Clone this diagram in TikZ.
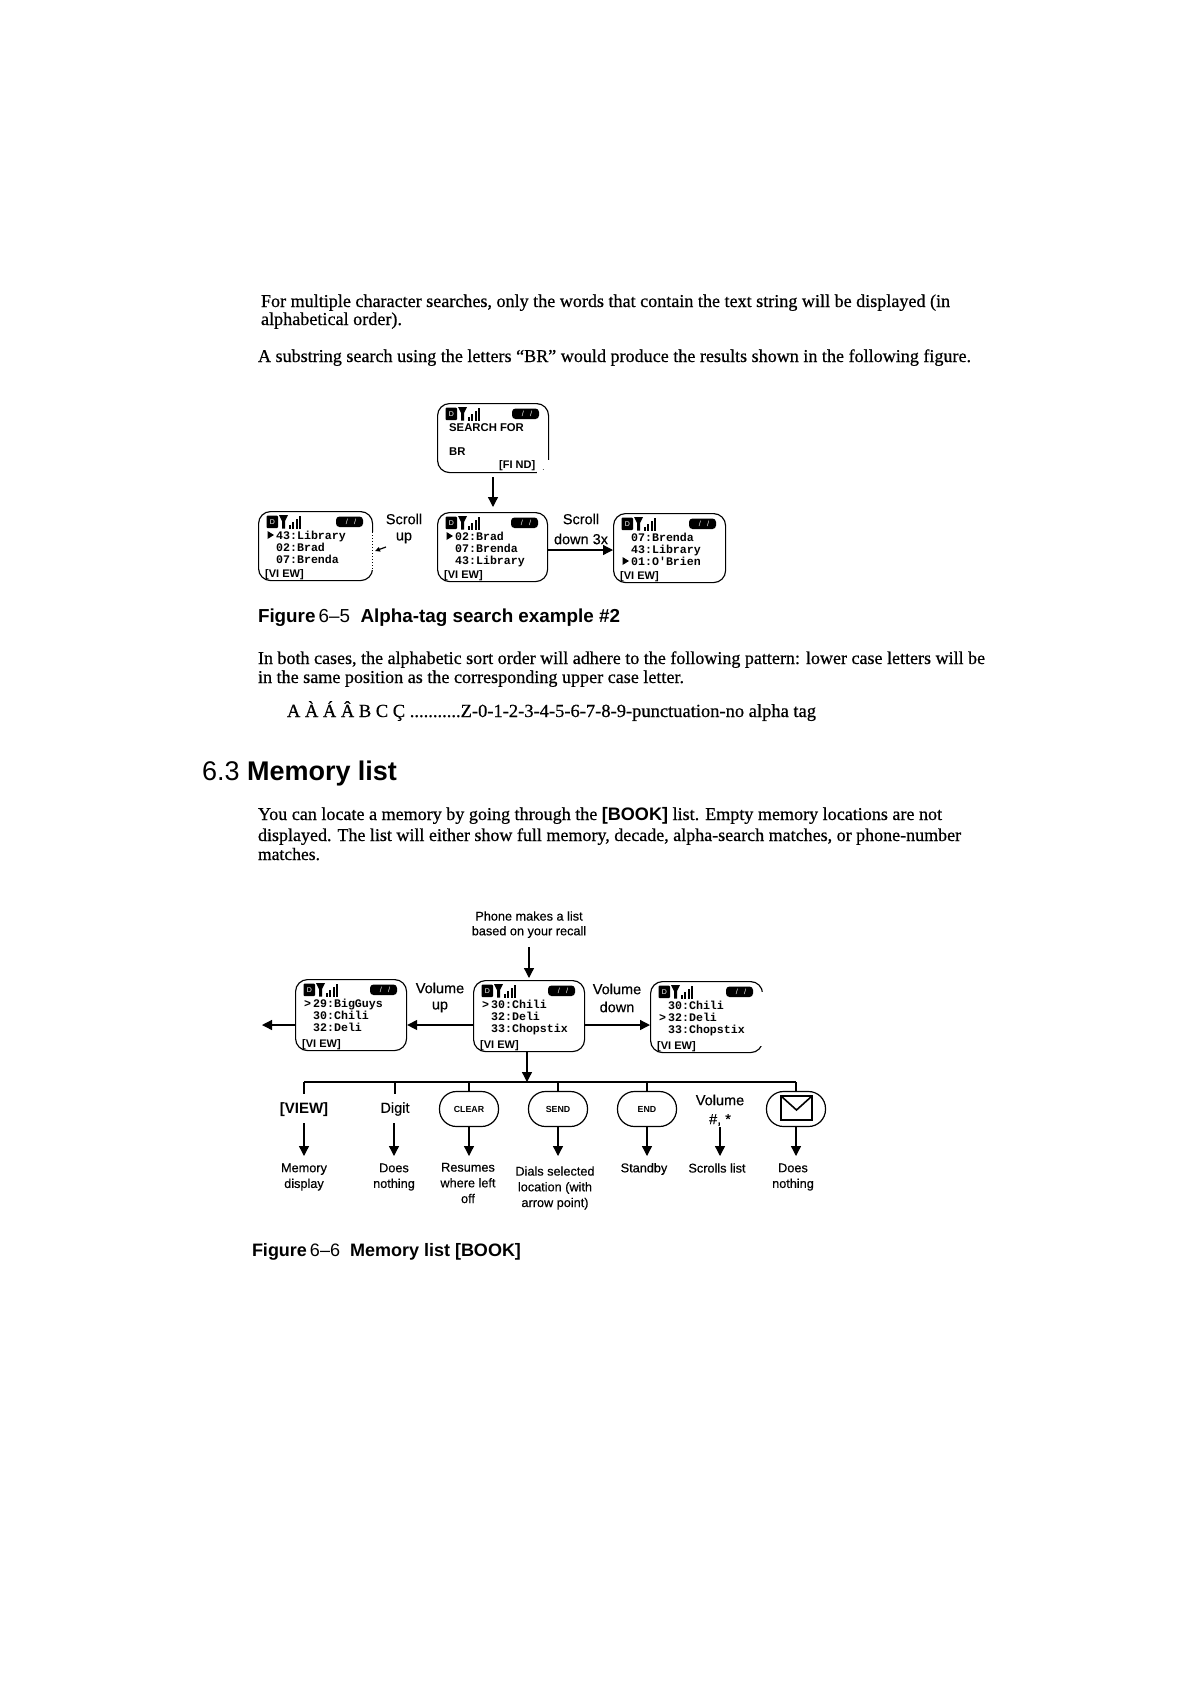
\documentclass[tikz,border=0pt]{standalone}
\usepackage{fontspec}
\usepackage{graphicx}
\usetikzlibrary{arrows.meta}
\setmainfont[FakeBold=0.6]{Liberation Serif}
\setsansfont{Liberation Sans}
\newfontfamily\monob{Liberation Mono}
\newfontfamily\armed[FakeBold=0.35]{Liberation Sans}
\newcommand{\fs}[1]{\fontsize{#1}{#1}\selectfont}
\tikzset{
  x=1pt,y=-1pt,
  bodyline/.style={anchor=base west,inner sep=0pt,outer sep=0pt},
  screenbox/.style={draw,line width=1.15pt,rounded corners=12pt,inner sep=0pt,anchor=north west,fill=white},
  lcd/.style={anchor=base west,inner sep=0pt,font=\monob\bfseries\fs{11.6}},
  lcdp/.style={anchor=base west,inner sep=0pt,font=\sffamily\bfseries\fs{11.3}},
  softk/.style={anchor=base west,inner sep=0pt,font=\sffamily\bfseries\fs{11}},
  lab/.style={anchor=center,inner sep=0pt,align=center,font=\armed\fs{14.5}},
  smalllab/.style={anchor=center,inner sep=0pt,align=center,font=\armed\fs{12.7}},
  conn/.style={line width=1.3pt,-{Triangle[length=10pt,width=10pt]}},
  busline/.style={line width=1.4pt},
  pill/.style={draw,line width=1.2pt,rounded corners=17pt,minimum width=59pt,minimum height=35pt,inner sep=0pt,font=\sffamily\bfseries\fs{8.8}},
}
% name, left, top, width, height
\newcommand{\phonescreen}[5]{%
  \node[screenbox,minimum width=#4pt,minimum height=#5pt] (#1) at (#2,#3) {};
  \fill[rounded corners=1pt] (#2+8.5,#3+4.5) rectangle (#2+20,#3+17);
  \node[inner sep=0pt,text=white,font=\sffamily\fs{7}] (#1-d) at (#2+14.5,#3+11) {D};
  \fill (#2+21,#3+4) -- (#2+30,#3+4) -- (#2+27,#3+10) -- (#2+27,#3+17.5) -- (#2+24,#3+17.5) -- (#2+24,#3+10) -- cycle;
  \fill (#2+31,#3+14) rectangle (#2+33,#3+17.5);
  \fill (#2+34.3,#3+11) rectangle (#2+36.3,#3+17.5);
  \fill (#2+37.6,#3+8) rectangle (#2+39.6,#3+17.5);
  \fill (#2+40.9,#3+4.5) rectangle (#2+42.6,#3+17.5);
  \fill[rounded corners=3.5pt] (#2+#4-36,#3+5.5) rectangle (#2+#4-9,#3+16);
  \node[inner sep=0pt,text=white,font=\sffamily\fs{7.5}] (#1-b) at (#2+#4-21,#3+10.7) {/\ \ \ /};
}
% name, left, top, row, text
\newcommand{\lcdrow}[5]{\node[lcd] (#1-r#4) at (#2+18,#3+#4*12+16) {#5};}
\newcommand{\softkey}[3]{\node[softk] (#1-k) at (#2+7,#3+66) {[VI EW]};}
\newcommand{\trimark}[3]{\fill (#1+9.5,#2+#3*12+8) -- (#1+16,#2+#3*12+12) -- (#1+9.5,#2+#3*12+16) -- cycle;}
\newcommand{\gtmark}[3]{\node[lcd] (mk#1) at (#2+9,#3) {>};}
\begin{document}
\begin{tikzpicture}
\useasboundingbox (0,0) rectangle (1182,1682);
\fill[white] (0,0) rectangle (1182,1682);

% page text
\node[bodyline] (t1) at (261,307) {\resizebox{689pt}{!}{\fs{17}For multiple character searches, only the words that contain the text string will be displayed (in}};
\node[bodyline] (t2) at (261,325) {\resizebox{141pt}{!}{\fs{17}alphabetical order).}};
\node[bodyline] (t3) at (258,362) {\resizebox{713pt}{!}{\fs{17}A substring search using the letters “BR” would produce the results shown in the following figure.}};
\node[bodyline] (cap5) at (258,622) {\resizebox{362pt}{!}{\fs{16}\sffamily\bfseries Figure\,{\mdseries 6–5}\ \ Alpha-tag search example \#2}};
\node[bodyline] (t4) at (258,664) {\resizebox{727pt}{!}{\fs{17}In both cases, the alphabetic sort order will adhere to the following pattern: lower case letters will be}};
\node[bodyline] (t5) at (258,683) {\resizebox{426pt}{!}{\fs{17}in the same position as the corresponding upper case letter.}};
\node[bodyline] (t6) at (287,717) {\resizebox{529pt}{!}{\fs{17}A À Á Â B C Ç ...........Z-0-1-2-3-4-5-6-7-8-9-punctuation-no alpha tag}};
\node[bodyline] (head) at (202,780) {\resizebox{195pt}{!}{\fs{27}\sffamily 6.3 \bfseries Memory list}};
\node[bodyline] (t7) at (258,820) {\resizebox{684pt}{!}{\fs{17}You can locate a memory by going through the {\sffamily\bfseries [BOOK]} list. Empty memory locations are not}};
\node[bodyline] (t8) at (258,841) {\resizebox{703pt}{!}{\fs{17}displayed. The list will either show full memory, decade, alpha-search matches, or phone-number}};
\node[bodyline] (t9) at (258,860) {\resizebox{62pt}{!}{\fs{17}matches.}};
\node[bodyline] (cap6) at (252,1256) {\resizebox{269pt}{!}{\fs{16}\sffamily\bfseries Figure\,{\mdseries 6–6}\ \ Memory list [BOOK]}};

% Figure 6-5
\phonescreen{s0}{437}{403}{111}{69}
\node[lcdp] (s0-a) at (449,431) {SEARCH FOR};
\node[lcdp] (s0-c) at (449,455) {BR};
\node[softk] (s0-k) at (499,468) {[FI ND]};
\fill[white] (544,460) rectangle (552,476);
\fill[white] (537,470) rectangle (552,476);

\phonescreen{s1}{258}{511}{114}{69}
\trimark{258}{511}{1}
\lcdrow{s1}{258}{511}{1}{43:Library}
\lcdrow{s1}{258}{511}{2}{02:Brad}
\lcdrow{s1}{258}{511}{3}{07:Brenda}
\softkey{s1}{258}{511}
\fill[white] (370,532) rectangle (374,570);
\draw[dotted,line width=1pt] (372,532) -- (372,570);

\phonescreen{s2}{437}{512}{110}{69}
\trimark{437}{512}{1}
\lcdrow{s2}{437}{512}{1}{02:Brad}
\lcdrow{s2}{437}{512}{2}{07:Brenda}
\lcdrow{s2}{437}{512}{3}{43:Library}
\softkey{s2}{437}{512}

\phonescreen{s3}{613}{513}{112}{69}
\lcdrow{s3}{613}{513}{1}{07:Brenda}
\lcdrow{s3}{613}{513}{2}{43:Library}
\trimark{613}{513}{3}
\lcdrow{s3}{613}{513}{3}{01:O'Brien}
\softkey{s3}{613}{513}

\coordinate (f5top) at (493,477);
\coordinate (f5tip) at (493,507);
\draw[conn] (f5top) -- (f5tip);
\coordinate (f5stub) at (386,547);
\draw[line width=1.2pt,-{Triangle[length=5pt,width=4.5pt]}] (f5stub) -- (375,551);
\draw[conn] (s2.east |- 0,550) -- (s3.west |- 0,550);
\node[lab] (l51) at (404,519) {Scroll};
\node[lab] (l52) at (404,538) {up};
\node[lab] (l53) at (581,519) {Scroll};
\node[lab] (l54) at (581,539) {down 3x};

% Figure 6-6
\node[smalllab] (p1) at (529,916) {Phone makes a list};
\node[smalllab] (p2) at (529,932) {based on your recall};
\phonescreen{m1}{295}{979}{111}{71}
\gtmark{a}{295}{979+28}
\lcdrow{m1}{295}{979}{1}{29:BigGuys}
\lcdrow{m1}{295}{979}{2}{30:Chili}
\lcdrow{m1}{295}{979}{3}{32:Deli}
\softkey{m1}{295}{981}

\phonescreen{m2}{473}{980}{111}{71}
\gtmark{b}{473}{980+28}
\lcdrow{m2}{473}{980}{1}{30:Chili}
\lcdrow{m2}{473}{980}{2}{32:Deli}
\lcdrow{m2}{473}{980}{3}{33:Chopstix}
\softkey{m2}{473}{982}

\phonescreen{m3}{650}{981}{112}{71}
\lcdrow{m3}{650}{981}{1}{30:Chili}
\gtmark{c}{650}{981+40}
\lcdrow{m3}{650}{981}{2}{32:Deli}
\lcdrow{m3}{650}{981}{3}{33:Chopstix}
\softkey{m3}{650}{983}
\fill[white] (755,992) rectangle (765,1046);

\coordinate (f6top) at (529,947);
\coordinate (f6tip) at (529,978);
\coordinate (f6left) at (262,1025);
\draw[conn] (f6top) -- (f6tip);
\draw[conn] (m1.west |- 0,1025) -- (f6left);
\draw[conn] (m2.west |- 0,1025) -- (m1.east |- 0,1025);
\draw[conn] (m2.east |- 0,1025) -- (m3.west |- 0,1025);
\coordinate (busc) at (527,1082);
\draw[conn] (busc |- m2.south) -- (busc);
\node[lab] (l61) at (440,988) {Volume};
\node[lab] (l62) at (440,1007) {up};
\node[lab] (l63) at (617,989) {Volume};
\node[lab] (l64) at (617,1007) {down};

\node[font=\sffamily\bfseries\fs{15},inner sep=0pt] (n1) at (304,1110) {[VIEW]};
\node[lab] (n2) at (395,1109) {Digit};
\node[pill] (n3) at (469,1109) {CLEAR};
\node[pill] (n4) at (558,1109) {SEND};
\node[pill] (n5) at (647,1109) {END};
\node[lab] (n6) at (720,1100) {Volume};
\node[lab] (n6b) at (720,1120) {\#, *};
\node[pill] (n7) at (796,1109) {};
\draw[line width=2.2pt] (781,1096) rectangle (812,1120);
\draw[line width=1.6pt] (781,1096) -- (796.5,1110) -- (812,1096);

\draw[busline] (n1.north |- busc) -- (n7.north |- busc);
\draw[busline] (n1.north |- busc) -- (304,1094);
\draw[busline] (n2.north |- busc) -- (395,1094);
\draw[busline] (n3.north |- busc) -- (n3.north);
\draw[busline] (n4.north |- busc) -- (n4.north);
\draw[busline] (n5.north |- busc) -- (n5.north);
\draw[busline] (n7.north |- busc) -- (n7.north);

\node[smalllab] (r1) at (304,1177) {Memory\\[3pt]display};
\node[smalllab] (r2) at (394,1177) {Does\\[3pt]nothing};
\node[smalllab] (r3) at (468,1183) {Resumes\\[3pt]where left\\[3pt]off};
\node[smalllab] (r4) at (555,1188) {Dials selected\\[3pt]location (with\\[3pt]arrow point)};
\node[smalllab] (r5) at (644,1169) {Standby};
\node[smalllab] (r6) at (717,1168) {Scrolls list};
\node[smalllab] (r7) at (793,1177) {Does\\[3pt]nothing};

\coordinate (a1) at (304,1123);
\coordinate (a1e) at (304,1156);
\coordinate (a2) at (394,1123);
\coordinate (a2e) at (394,1156);
\coordinate (a6) at (720,1127);
\coordinate (a6e) at (720,1156);
\draw[conn] (a1) -- (a1e);
\draw[conn] (a2) -- (a2e);
\draw[conn] (n3.south) -- (469,1156);
\draw[conn] (n4.south) -- (558,1156);
\draw[conn] (n5.south) -- (647,1156);
\draw[conn] (a6) -- (a6e);
\draw[conn] (n7.south) -- (796,1156);
\end{tikzpicture}
\end{document}
